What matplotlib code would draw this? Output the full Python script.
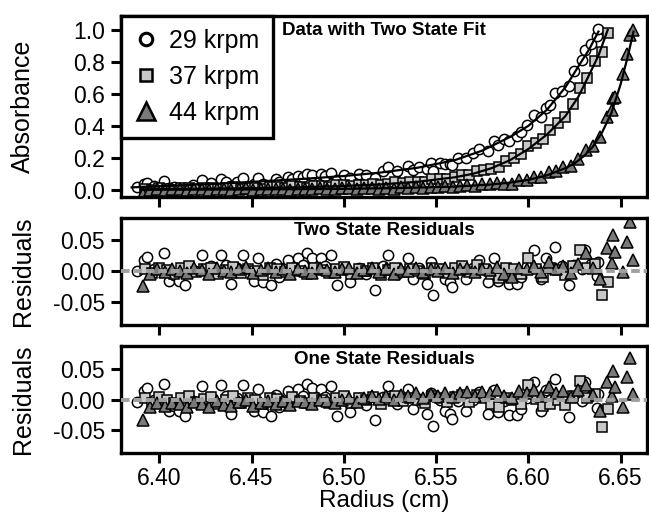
import matplotlib
matplotlib.use('Agg')
import matplotlib.pyplot as plt
from matplotlib.lines import Line2D
from matplotlib.ticker import FormatStrFormatter, MultipleLocator

plt.rcParams['font.family'] = ['Liberation Sans', 'DejaVu Sans']
plt.rcParams['axes.unicode_minus'] = False

# ---- 29 krpm (circles) ----
circ_r = [6.3880, 6.3916, 6.3934, 6.3970, 6.4023, 6.4050, 6.4080, 6.4104, 6.4140, 6.4180,
          6.4233, 6.4280, 6.4333, 6.4360, 6.4387, 6.4420, 6.4453, 6.4512, 6.4534, 6.4560,
          6.4606, 6.4630, 6.4650, 6.4695, 6.4720, 6.4749, 6.4780, 6.4803, 6.4830, 6.4875,
          6.4900, 6.4928, 6.4964, 6.5000, 6.5036, 6.5080, 6.5120, 6.5170, 6.5210, 6.5242,
          6.5290, 6.5349, 6.5376, 6.5410, 6.5453, 6.5471, 6.5484, 6.5520, 6.5547, 6.5574,
          6.5586, 6.5620, 6.5663, 6.5700, 6.5735, 6.5780, 6.5816, 6.5834, 6.5870, 6.5896,
          6.5941, 6.5959, 6.5995, 6.6031, 6.6066, 6.6093, 6.6120, 6.6147, 6.6180, 6.6219,
          6.6250, 6.6290, 6.6308, 6.6340, 6.6370, 6.6380]
circ_abs = [0.016, 0.036, 0.042, 0.025, 0.052, 0.010, 0.020, 0.012, 0.006, 0.033,
            0.059, 0.044, 0.066, 0.050, 0.022, 0.050, 0.073, 0.035, 0.073, 0.036,
            0.033, 0.070, 0.051, 0.081, 0.069, 0.087, 0.079, 0.099, 0.094, 0.097,
            0.086, 0.106, 0.060, 0.090, 0.073, 0.101, 0.094, 0.075, 0.118, 0.140,
            0.118, 0.151, 0.122, 0.145, 0.131, 0.170, 0.119, 0.169, 0.161, 0.162,
            0.157, 0.197, 0.198, 0.231, 0.257, 0.245, 0.303, 0.278, 0.317, 0.308,
            0.339, 0.362, 0.405, 0.465, 0.454, 0.514, 0.533, 0.605, 0.620, 0.652,
            0.743, 0.811, 0.874, 0.914, 0.960, 1.005]
circ_res2 = [0.000, 0.018, 0.023, 0.004, 0.029, -0.015, -0.006, -0.015, -0.023, 0.002,
             0.026, 0.008, 0.027, 0.010, -0.020, 0.006, 0.027, -0.015, 0.021, -0.017,
             -0.023, 0.012, -0.009, 0.018, 0.005, 0.021, 0.010, 0.029, 0.022, 0.021,
             0.008, 0.026, -0.023, 0.004, -0.017, 0.006, -0.005, -0.030, 0.008, 0.026,
             -0.004, 0.021, -0.012, 0.005, -0.020, 0.015, -0.039, 0.003, -0.012, -0.017,
             -0.025, 0.004, -0.012, 0.006, 0.018, -0.017, 0.021, -0.015, 0.004, -0.020,
             -0.020, -0.009, 0.008, 0.034, -0.012, 0.021, 0.005, 0.039, 0.008, -0.023,
             0.010, 0.004, 0.034, 0.012, -0.008, 0.015]
circ_res1 = [-0.004, 0.014, 0.019, 0.000, 0.025, -0.019, -0.010, -0.019, -0.027, -0.002,
             0.022, 0.004, 0.023, 0.006, -0.024, 0.002, 0.023, -0.019, 0.017, -0.021,
             -0.027, 0.008, -0.013, 0.014, 0.001, 0.017, 0.006, 0.025, 0.018, 0.017,
             0.004, 0.022, -0.027, 0.000, -0.021, 0.002, -0.009, -0.034, 0.004, 0.022,
             -0.008, 0.017, -0.016, 0.001, -0.024, 0.011, -0.043, -0.001, -0.018, -0.023,
             -0.031, -0.002, -0.018, 0.000, 0.012, -0.023, 0.015, -0.021, -0.002, -0.026,
             -0.026, -0.015, 0.002, 0.028, -0.018, 0.015, -0.001, 0.033, 0.002, -0.029,
             0.004, -0.002, 0.028, 0.006, -0.014, 0.009]
circ_fit_r = [6.385, 6.40, 6.42, 6.44, 6.46, 6.48, 6.50, 6.52, 6.54, 6.56, 6.575,
              6.59, 6.60, 6.61, 6.62, 6.627, 6.633, 6.638]
circ_fit_a = [0.015, 0.022, 0.032, 0.043, 0.056, 0.070, 0.086, 0.108, 0.138, 0.185, 0.245,
              0.33, 0.40, 0.50, 0.64, 0.77, 0.88, 0.99]

# ---- 37 krpm (squares) ----
sq_r = [6.392, 6.396, 6.400, 6.404, 6.408, 6.412, 6.416, 6.420, 6.424, 6.428,
        6.432, 6.436, 6.440, 6.444, 6.448, 6.452, 6.456, 6.460, 6.464, 6.468,
        6.472, 6.476, 6.480, 6.484, 6.488, 6.492, 6.496, 6.500, 6.504, 6.508,
        6.512, 6.516, 6.520, 6.524, 6.528, 6.532, 6.536, 6.540, 6.544, 6.548,
        6.552, 6.556, 6.560, 6.564, 6.568, 6.572, 6.576, 6.580, 6.584, 6.588,
        6.592, 6.596, 6.600, 6.604, 6.608, 6.612, 6.616, 6.620, 6.624, 6.628,
        6.632, 6.636, 6.640, 6.643]
sq_abs = [0.007, 0.001, 0.010, 0.006, 0.001, 0.010, 0.014, 0.004, 0.010, 0.013,
          0.003, 0.010, 0.016, 0.006, 0.014, 0.012, 0.005, 0.017, 0.016, 0.012,
          0.021, 0.016, 0.013, 0.023, 0.022, 0.018, 0.027, 0.031, 0.021, 0.031,
          0.030, 0.037, 0.028, 0.039, 0.046, 0.042, 0.051, 0.051, 0.051, 0.067,
          0.070, 0.069, 0.083, 0.095, 0.094, 0.117, 0.125, 0.131, 0.144, 0.181,
          0.202, 0.222, 0.276, 0.295, 0.318, 0.374, 0.416, 0.454, 0.537, 0.637,
          0.702, 0.804, 0.865, 0.983]
sq_res2 = [0.004, -0.003, 0.006, 0.002, -0.004, 0.005, 0.008, -0.002, 0.003, 0.006,
           -0.005, 0.002, 0.007, -0.003, 0.004, 0.001, -0.006, 0.005, 0.003, -0.002,
           0.006, 0.000, -0.004, 0.005, 0.002, -0.003, 0.004, 0.007, -0.005, 0.003,
           0.000, 0.005, -0.006, 0.002, 0.006, -0.002, 0.004, 0.001, -0.005, 0.006,
           0.003, -0.003, 0.005, 0.008, -0.002, 0.010, 0.004, -0.004, -0.011, 0.006,
           0.003, -0.005, 0.021, 0.004, -0.009, 0.006, 0.002, -0.006, 0.008, 0.034,
           0.005, 0.012, -0.039, -0.017]
sq_res1 = [0.002, -0.005, 0.004, 0.000, -0.006, 0.003, 0.006, -0.004, 0.001, 0.004,
           -0.007, 0.000, 0.005, -0.005, 0.002, -0.001, -0.008, 0.003, 0.001, -0.004,
           0.004, -0.002, -0.006, 0.003, 0.000, -0.005, 0.002, 0.005, -0.006, 0.002,
           -0.001, 0.004, -0.007, 0.001, 0.005, -0.003, 0.003, 0.000, -0.006, 0.005,
           0.002, -0.004, 0.004, 0.007, -0.004, 0.008, 0.002, -0.007, -0.012, 0.003,
           0.000, -0.008, 0.024, 0.001, -0.011, -0.007, 0.000, -0.009, 0.005, 0.030,
           0.002, 0.009, -0.045, -0.015]
sq_fit_r = [6.39, 6.42, 6.45, 6.48, 6.50, 6.52, 6.54, 6.56, 6.57, 6.58, 6.59,
            6.60, 6.61, 6.62, 6.627, 6.633, 6.638, 6.643]
sq_fit_a = [0.003, 0.006, 0.010, 0.017, 0.024, 0.034, 0.050, 0.078, 0.100, 0.135, 0.185,
            0.255, 0.345, 0.46, 0.58, 0.72, 0.84, 1.00]

# ---- 44 krpm (triangles) ----
tri_r = [6.391, 6.395, 6.399, 6.403, 6.407, 6.411, 6.415, 6.419, 6.423, 6.427,
         6.431, 6.435, 6.439, 6.443, 6.447, 6.451, 6.455, 6.459, 6.463, 6.467,
         6.471, 6.475, 6.479, 6.483, 6.487, 6.491, 6.495, 6.499, 6.503, 6.507,
         6.511, 6.515, 6.519, 6.523, 6.527, 6.531, 6.535, 6.539, 6.543, 6.547,
         6.551, 6.555, 6.559, 6.563, 6.567, 6.571, 6.575, 6.579, 6.583, 6.587,
         6.591, 6.595, 6.599, 6.603, 6.607, 6.611, 6.615, 6.619, 6.623, 6.627,
         6.631, 6.635, 6.6389, 6.6424, 6.6451, 6.6460, 6.6469, 6.6514, 6.6532, 6.6550,
         6.6568]
tri_abs = [-0.024, -0.004, 0.003, -0.002, 0.005, 0.002, -0.002, 0.006, 0.003, -0.003,
           0.007, 0.002, 0.000, 0.006, 0.009, -0.001, 0.004, 0.008, 0.002, 0.006,
           0.000, 0.008, 0.005, 0.002, 0.010, 0.007, 0.004, 0.010, 0.013, 0.004,
           0.010, 0.014, 0.008, 0.013, 0.006, 0.015, 0.014, 0.020, 0.013, 0.020,
           0.017, 0.024, 0.017, 0.025, 0.031, 0.025, 0.034, 0.034, 0.044, 0.037,
           0.038, 0.059, 0.063, 0.078, 0.080, 0.110, 0.117, 0.140, 0.150, 0.195,
           0.251, 0.276, 0.328, 0.455, 0.497, 0.574, 0.579, 0.722, 0.852, 0.970,
           0.998]
tri_res2 = [-0.024, -0.004, 0.003, -0.002, 0.004, 0.001, -0.003, 0.005, 0.002, -0.004,
            0.006, 0.000, -0.002, 0.004, 0.007, -0.003, 0.002, 0.005, -0.001, 0.003,
            -0.004, 0.004, 0.001, -0.003, 0.005, 0.002, -0.002, 0.004, 0.006, -0.003,
            0.002, 0.005, -0.001, 0.003, -0.005, 0.004, 0.001, 0.006, -0.002, 0.004,
            0.000, 0.005, -0.003, 0.003, 0.006, -0.002, 0.004, 0.002, 0.007, -0.004,
            -0.009, 0.005, 0.003, 0.008, -0.002, 0.015, 0.004, 0.009, -0.003, 0.012,
            0.029, 0.006, -0.012, 0.037, 0.013, 0.058, 0.031, -0.001, 0.048, 0.080,
            0.018]
tri_res1 = [-0.034, -0.012, -0.006, -0.011, -0.005, -0.008, -0.012, -0.004, -0.007, -0.013,
            -0.003, -0.009, -0.010, -0.004, -0.001, -0.010, -0.005, -0.002, -0.007, -0.003,
            -0.009, -0.002, -0.004, -0.007, 0.000, -0.003, -0.005, 0.000, 0.003, -0.004,
            0.002, 0.005, 0.001, 0.005, -0.001, 0.007, 0.005, 0.010, 0.003, 0.009,
            0.006, 0.011, 0.004, 0.010, 0.013, 0.006, 0.012, 0.010, 0.015, 0.006,
            0.002, 0.014, 0.011, 0.016, 0.006, 0.020, 0.010, 0.014, 0.004, 0.015,
            0.024, 0.008, -0.018, 0.028, 0.005, 0.047, 0.020, -0.012, 0.036, 0.068,
            0.009]
tri_fit_r = [6.39, 6.45, 6.50, 6.53, 6.56, 6.58, 6.59, 6.60, 6.61, 6.62, 6.625,
             6.63, 6.635, 6.64, 6.645, 6.65, 6.654, 6.657]
tri_fit_a = [0.000, 0.002, 0.006, 0.011, 0.020, 0.033, 0.045, 0.062, 0.090, 0.135, 0.165,
             0.21, 0.27, 0.36, 0.48, 0.66, 0.84, 0.99]

labels = ['29 krpm', '37 krpm', '44 krpm']
titles = ['Data with Two State Fit', 'Two State Residuals', 'One State Residuals']

# marker, size, fill
styles = [('o', 7.4, 'white'), ('s', 6.8, '#c8c8c8'), ('^', 9.0, '#7a7a7a')]
series = [(circ_r, circ_abs, circ_res2, circ_res1, circ_fit_r, circ_fit_a),
          (sq_r, sq_abs, sq_res2, sq_res1, sq_fit_r, sq_fit_a),
          (tri_r, tri_abs, tri_res2, tri_res1, tri_fit_r, tri_fit_a)]

fig = plt.figure(figsize=(6.49, 5.14), dpi=100)
ax_top = fig.add_axes([0.1872, 0.6177, 0.8097, 0.3512])
ax_mid = fig.add_axes([0.1872, 0.3677, 0.8097, 0.2091])
ax_bot = fig.add_axes([0.1872, 0.1187, 0.8097, 0.2081])

for (m, ms, fc), (r, a, res2, res1, fr, fa) in zip(styles, series):
    ax_top.plot(r, a, ls='none', marker=m, ms=ms, mfc=fc, mec='black', mew=1.1, zorder=2)
    ax_mid.plot(r, res2, ls='none', marker=m, ms=ms, mfc=fc, mec='black', mew=1.1, zorder=2)
    ax_bot.plot(r, res1, ls='none', marker=m, ms=ms, mfc=fc, mec='black', mew=1.1, zorder=2)
for (r, a, res2, res1, fr, fa) in series:
    ax_top.plot(fr, fa, color='black', lw=1.6, zorder=3)

for ax in (ax_mid, ax_bot):
    ax.axhline(0, color='#a0a0a0', lw=2.8, ls=(0, (2.2, 1.0)), zorder=3)
    ax.set_ylim(-0.087, 0.087)
    ax.yaxis.set_major_locator(MultipleLocator(0.05))
    ax.yaxis.set_major_formatter(FormatStrFormatter('%.2f'))
    ax.set_ylabel('Residuals', fontsize=18)

ax_top.set_ylim(-0.042, 1.0875)
ax_top.yaxis.set_major_locator(MultipleLocator(0.2))
ax_top.yaxis.set_major_formatter(FormatStrFormatter('%.1f'))
ax_top.set_ylabel('Absorbance', fontsize=18)

for ax, t in zip((ax_top, ax_mid, ax_bot), titles):
    ax.set_xlim(6.3795, 6.6643)
    ax.xaxis.set_major_locator(MultipleLocator(0.05))
    ax.xaxis.set_major_formatter(FormatStrFormatter('%.2f'))
    for s in ax.spines.values():
        s.set_linewidth(2.4)
    ax.tick_params(direction='out', length=7, width=2.2, labelsize=16.5, pad=5)
    ax.yaxis.set_label_coords(-0.165, 0.5)
    ax.text(0.5, 0.965 if ax is ax_top else 0.955, t, transform=ax.transAxes,
            ha='center', va='top', fontsize=13.5, fontweight='bold', zorder=5)

ax_top.tick_params(labelbottom=False)
ax_mid.tick_params(labelbottom=False)
ax_bot.tick_params(axis='x', pad=3)
ax_bot.set_xlabel('Radius (cm)', fontsize=17.5, labelpad=0)

handles = [Line2D([], [], ls='none', marker='o', ms=9, mfc='white', mec='black', mew=2.2),
           Line2D([], [], ls='none', marker='s', ms=8, mfc='#c8c8c8', mec='black', mew=1.8),
           Line2D([], [], ls='none', marker='^', ms=13, mfc='#7a7a7a', mec='black', mew=1.8)]
leg = ax_top.legend(handles, labels, loc='upper left', bbox_to_anchor=(0, 1),
                    borderaxespad=0, fontsize=18, frameon=True, fancybox=False,
                    handlelength=0.9, handletextpad=0.5, labelspacing=0.48,
                    borderpad=0.52)
leg.get_frame().set_edgecolor('black')
leg.get_frame().set_linewidth(2.4)
leg.get_frame().set_alpha(1)
leg.set_zorder(6)

fig.savefig('out.png', dpi=100)
